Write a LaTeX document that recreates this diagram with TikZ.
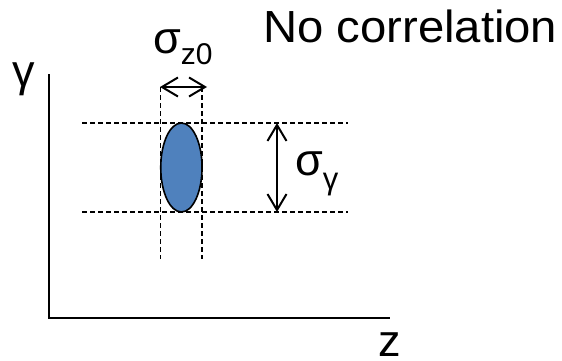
\documentclass[tikz,border=0pt]{standalone}
\usepackage{fontspec}
\setmainfont{Liberation Sans}
\usetikzlibrary{arrows.meta,shapes.geometric}
\definecolor{beamblue}{RGB}{79,129,189}
\begin{document}
\begin{tikzpicture}[x=1pt,y=-1pt,
  txt/.style={inner sep=0pt, font=\fontsize{45}{45}\selectfont},
  guide/.style={line width=1.3pt, dash pattern=on 5pt off 3pt},
  axis/.style={line width=1.9pt},
  barb/.tip={Straight Barb[length=16pt,width=19pt]},
  dim/.style={line width=2pt, barb-barb},
]
\useasboundingbox (0,0) rectangle (562,361);
% axes
\coordinate (O) at (49,318);
\coordinate (Ytop) at (49,74);
\coordinate (Zend) at (390,318);
\draw[axis] (Ytop) -- (O) -- (Zend);
% guides
\coordinate (h1l) at (82,123);  \coordinate (h1r) at (348,123);
\coordinate (h2l) at (82,212);  \coordinate (h2r) at (348,212);
\coordinate (v1t) at (160.7,87); \coordinate (v1b) at (160.7,259);
\coordinate (v2t) at (202,87);   \coordinate (v2b) at (202,259);
\draw[guide] (h1l) -- (h1r);
\draw[guide] (h2l) -- (h2r);
\draw[guide] (v1t) -- (v1b);
\draw[guide] (v2t) -- (v2b);
% beam
\node[ellipse, draw, line width=1.6pt, fill=beamblue, minimum width=41.3pt, minimum height=89pt, inner sep=0pt] (beam) at (181.4,167.5) {};
% dimension arrows
\coordinate (aL) at (160,87);  \coordinate (aR) at (207,87);
\coordinate (aT) at (277,123); \coordinate (aB) at (277,212);
\draw[dim] (aL) -- (aR);
\draw[dim] (aT) -- (aB);
% labels
\node[txt, anchor=base west] (title) at (263,43) {\scalebox{1.05}[1]{No correlation}};
\node[txt, anchor=base west] (glab) at (12,86) {γ};
\node[txt, anchor=base west] (zlab) at (378,356) {z};
\node[txt, anchor=base west] (sz) at (153,53) {σ\raisebox{-12pt}{\fontsize{30}{30}\selectfont z0}};
\node[txt, anchor=base west] (sg) at (295,175) {σ\raisebox{-14pt}{\fontsize{31}{31}\selectfont γ}};
\end{tikzpicture}
\end{document}
